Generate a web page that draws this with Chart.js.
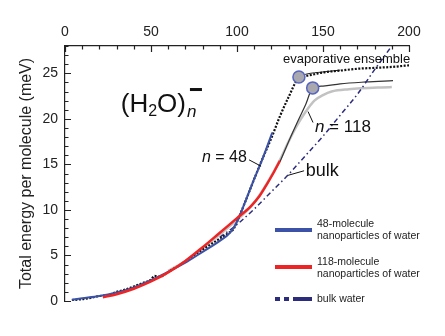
<!DOCTYPE html>
<html>
<head>
<meta charset="utf-8">
<script src="https://cdn.jsdelivr.net/npm/chart.js@4.4.0/dist/chart.umd.min.js"></script>
<style>
	html, body { margin: 0; padding: 0; background: #fff; }
</style>
</head>
<body>
<canvas id="chart" width="445" height="336"></canvas>
<script>
// temperature (K) and total energy per molecule (meV)
const tempFit48 = [4, 10, 20, 30, 40, 50, 60, 70, 80, 90, 96, 100, 105, 110, 115, 120.5];
const energyFit48 = [0.15, 0.3, 0.55, 0.95, 1.5, 2.3, 3.2, 4.2, 5.4, 6.6, 7.5, 8.7, 11.0, 13.4, 15.7, 18.5];

const tempFit118 = [22, 30, 40, 50, 60, 70, 80, 90, 100, 108, 113, 117, 121, 125];
const energyFit118 = [0.4, 0.75, 1.35, 2.15, 3.15, 4.4, 5.9, 7.5, 9.1, 10.4, 11.5, 12.7, 14.0, 15.4];

const tempBulk = [90, 100, 110, 120, 130, 140, 150, 160, 170, 180, 190];
const energyBulk = [7.0, 8.4, 10.1, 12.0, 13.9, 16.0, 18.1, 20.4, 22.7, 25.4, 28.0];

const tempSim48 = [4, 10, 15, 20, 25, 30, 35, 40, 45, 50, 52, 55, 60, 65, 70, 75, 80, 85, 90, 95, 98, 100, 105, 110, 115, 120, 125, 130, 135.5, 140, 145, 150, 160, 170, 180, 190, 201];
const energySim48 = [0.1, 0.2, 0.35, 0.55, 0.65, 1.0, 1.25, 1.6, 1.95, 2.35, 2.75, 2.65, 3.2, 3.75, 4.35, 5.05, 5.65, 6.25, 6.85, 7.45, 7.9, 8.7, 11.0, 13.4, 15.7, 17.9, 20.3, 22.4, 24.4, 24.7, 24.9, 25.1, 25.3, 25.5, 25.6, 25.7, 25.9];

const tempSim118 = [60, 70, 80, 90, 100, 110, 118, 125, 130, 135, 140, 145, 150, 155, 165, 190];
const energySim118 = [3.3, 4.4, 5.8, 7.3, 8.9, 10.8, 13.1, 15.5, 17.5, 19.3, 20.8, 22.0, 22.6, 23.0, 23.25, 23.5];

const tempEvap48 = [136, 140, 150, 160];
const energyEvap48 = [24.6, 24.9, 25.15, 25.35];

const tempEvap118 = [125, 130, 135, 140, 144, 150, 160, 175, 190.7];
const energyEvap118 = [15.3, 17.5, 19.6, 21.6, 23.4, 23.6, 23.85, 24.05, 24.2];

const tempStart = [136, 144];
const energyStart = [24.6, 23.4];

const xTicks = [0, 50, 100, 150, 200];
const yTicks = [0, 5, 10, 15, 20, 25];

const BLUE = "#3b52a6";
const RED = "#ee2424";
const NAVY = "#2b2d7c";
const FONT = "'Liberation Sans', Arial, sans-serif";

function pts(xs, ys) {
	return xs.map((x, i) => ({ x: x, y: ys[i] }));
}

const decor = {
	id: "decor",
	afterDraw(chart) {
		const ctx = chart.ctx;
		const xs = chart.scales.x;
		const ys = chart.scales.y;
		const area = chart.chartArea;
		const px = (v) => xs.getPixelForValue(v);
		const py = (v) => ys.getPixelForValue(v);

		ctx.save();
		// inward tick marks
		ctx.strokeStyle = "#222";
		ctx.lineWidth = 1.2;
		ctx.beginPath();
		for (let v = 0; v <= 200; v += 10) {
			const len = v % 50 === 0 ? 6 : 3.5;
			ctx.moveTo(Math.round(px(v)) + 0.5, area.top);
			ctx.lineTo(Math.round(px(v)) + 0.5, area.top + len);
		}
		for (let v = 0; v <= 28; v += 1) {
			const len = v % 5 === 0 ? 6 : 3.5;
			ctx.moveTo(area.left, Math.round(py(v)) + 0.5);
			ctx.lineTo(area.left + len, Math.round(py(v)) + 0.5);
		}
		ctx.stroke();

		// leader lines
		ctx.strokeStyle = "#111";
		ctx.lineWidth = 1;
		ctx.beginPath();
		ctx.moveTo(px(107), py(15.5)); ctx.lineTo(px(114), py(14.8));
		ctx.moveTo(px(141.3), py(20.8)); ctx.lineTo(px(144.2), py(19.6));
		ctx.moveTo(px(129.7), py(13.8)); ctx.lineTo(px(139), py(14.3));
		ctx.stroke();

		// annotations
		ctx.fillStyle = "#111";
		ctx.textBaseline = "middle";
		ctx.textAlign = "left";
		ctx.font = "italic 16px " + FONT;
		let x = px(79.6);
		ctx.fillText("n", x, py(15.7));
		x += ctx.measureText("n").width;
		ctx.font = "16px " + FONT;
		ctx.fillText(" = 48", x, py(15.7));

		ctx.font = "italic 17px " + FONT;
		x = px(145.3);
		ctx.fillText("n", x, py(19.1));
		x += ctx.measureText("n").width;
		ctx.font = "17px " + FONT;
		ctx.fillText(" = 118", x, py(19.1));

		ctx.font = "18px " + FONT;
		ctx.fillText("bulk", px(140), py(14.3));

		ctx.font = "13px " + FONT;
		ctx.fillText("evaporative ensemble", px(126.7), py(26.5));

		// (H2O)n- formula
		ctx.textBaseline = "alphabetic";
		const base = py(20.75);
		x = px(32.4);
		ctx.font = "26px " + FONT;
		ctx.fillText("(H", x, base);
		x += ctx.measureText("(H").width;
		ctx.font = "16px " + FONT;
		ctx.fillText("2", x, base + 4);
		x += ctx.measureText("2").width;
		ctx.font = "26px " + FONT;
		ctx.fillText("O)", x, base);
		x += ctx.measureText("O)").width;
		ctx.font = "italic 17px " + FONT;
		ctx.fillText("n", x + 1, base + 5);
		ctx.fillRect(x + 4, base - 24, 12, 3);

		// legend
		const lx = 275, lw = 37, tx = 317;
		ctx.font = "10.5px " + FONT;
		ctx.textBaseline = "middle";
		ctx.fillStyle = BLUE;
		ctx.fillRect(lx, 228, lw, 4);
		ctx.fillStyle = "#222";
		ctx.fillText("48-molecule", tx, 224);
		ctx.fillText("nanoparticles of water", tx, 236);
		ctx.fillStyle = RED;
		ctx.fillRect(lx, 265, lw, 4);
		ctx.fillStyle = "#222";
		ctx.fillText("118-molecule", tx, 262);
		ctx.fillText("nanoparticles of water", tx, 274);
		ctx.fillStyle = NAVY;
		ctx.fillRect(lx, 297, 5, 4);
		ctx.fillRect(lx + 9, 297, 5, 4);
		ctx.fillRect(lx + 18, 297, 19, 4);
		ctx.fillStyle = "#222";
		ctx.fillText("bulk water", tx, 299);
		ctx.restore();
	}
};

function lineSet(label, xs, ys, color, width, dash, order) {
	return {
		label: label,
		data: pts(xs, ys),
		borderColor: color,
		borderWidth: width,
		borderDash: dash,
		pointRadius: 0,
		fill: false,
		cubicInterpolationMode: "monotone",
		order: order
	};
}

const ctx = document.getElementById("chart").getContext("2d");
new Chart(ctx, {
	type: "line",
	data: {
		datasets: [
			{
				label: "start",
				data: pts(tempStart, energyStart),
				showLine: false,
				pointRadius: 6,
				pointBackgroundColor: "#a8a8ae",
				pointBorderColor: "#5866bf",
				pointBorderWidth: 1.5,
				order: 0
			},
			lineSet("118-molecule nanoparticles of water", tempFit118, energyFit118, RED, 2.5, [], 1),
			lineSet("48-molecule nanoparticles of water", tempFit48, energyFit48, BLUE, 2, [], 2),
			lineSet("48 simulation", tempSim48, energySim48, "#111", 2.2, [2, 1.5], 3),
			lineSet("bulk water", tempBulk, energyBulk, NAVY, 1.5, [5, 3, 1.5, 3], 4),
			lineSet("evap 48", tempEvap48, energyEvap48, "#222", 1, [], 5),
			lineSet("evap 118", tempEvap118, energyEvap118, "#333", 1.2, [], 6),
			lineSet("118 simulation", tempSim118, energySim118, "#c2c2c2", 2.5, [], 7)
		]
	},
	options: {
		responsive: false,
		animation: false,
		layout: { padding: { left: 0, top: 0, right: 36, bottom: 35 } },
		plugins: { legend: { display: false }, tooltip: { enabled: false } },
		scales: {
			x: {
				type: "linear",
				position: "top",
				min: 0,
				max: 200,
				afterFit: (s) => { s.height = 46; },
				afterBuildTicks: (s) => { s.ticks = xTicks.map((v) => ({ value: v })); },
				ticks: { padding: 5, color: "#222", font: { family: FONT, size: 14 } },
				grid: { drawOnChartArea: false, drawTicks: false },
				border: { color: "#222", width: 1.2 }
			},
			y: {
				type: "linear",
				min: 0,
				max: 28,
				afterFit: (s) => { s.width = 65; },
				afterBuildTicks: (s) => { s.ticks = yTicks.map((v) => ({ value: v })); },
				ticks: { padding: 7, color: "#222", font: { family: FONT, size: 14 } },
				grid: { drawOnChartArea: false, drawTicks: false },
				border: { color: "#222", width: 1.2 },
				title: {
					display: true,
					text: "Total energy per molecule (meV)",
					color: "#222",
					font: { family: FONT, size: 16 },
					padding: { top: 17, bottom: 0 }
				}
			}
		}
	},
	plugins: [decor]
});
</script>
</body>
</html>
